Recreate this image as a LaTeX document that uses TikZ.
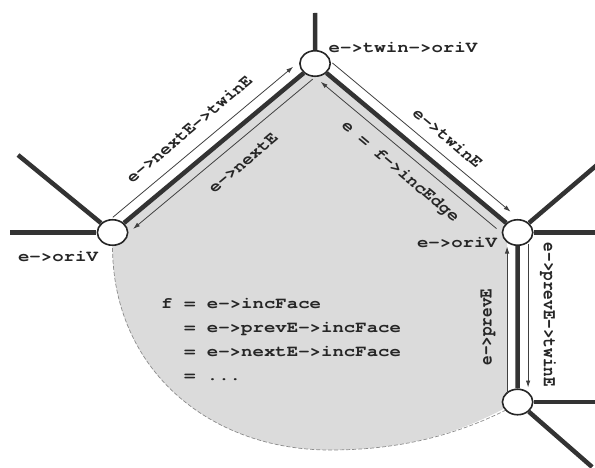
\documentclass[tikz,border=0pt]{standalone}
\usepackage{fontspec}
\setmonofont{TeX Gyre Cursor}
\usetikzlibrary{arrows.meta}
\begin{document}
\begin{tikzpicture}[x=0.840336pt,y=-1pt,xscale=1.19,
  every node/.style={transform shape},
  edge/.style={line width=4.5pt,draw=black!80},
  thinarrow/.style={line width=0.8pt,draw=black!75,-{Latex[length=7pt,width=4.5pt]}},
  vtx/.style={circle,draw=black!85,line width=1.6pt,fill=white,minimum size=25.5pt,inner sep=0pt},
  lbl/.style={inner sep=0pt,font=\fontsize{16}{19}\selectfont\ttfamily\bfseries,text=black!85},
  facefill/.style={fill=black!14},
  faceline/.style={draw=black!45,line width=0.7pt,dash pattern=on 4pt off 2pt},
]
\useasboundingbox (0,0) rectangle (595,468);
% vertex positions
\coordinate (a) at (112.5,232.5);
\coordinate (b) at (315,63.5);
\coordinate (c) at (517.5,232.5);
\coordinate (d) at (517.5,402);
% face
\path[facefill] (a) -- (b) -- (c) -- (507,232.5) -- (507,407)
  .. controls (452,437) and (395,450) .. (330,450)
  .. controls (210,450) and (112.5,370) .. (112.5,247) -- cycle;
\draw[faceline] (506,410) .. controls (452,437) and (395,450) .. (330,450)
  .. controls (210,450) and (112.5,370) .. (112.5,246);
% vertices
\node[vtx] (A) at (a) {};
\node[vtx] (B) at (b) {};
\node[vtx] (C) at (c) {};
\node[vtx] (D) at (d) {};
% free ends of outer edges
\coordinate (a1) at (10,232.5);
\coordinate (a2) at (18,155);
\coordinate (b1) at (315,13);
\coordinate (c1) at (598,164);
\coordinate (c2) at (598,232.5);
\coordinate (d1) at (598,402);
\coordinate (d2) at (592,467);
% edges
\draw[edge] (A) -- (B);
\draw[edge] (B) -- (C);
\draw[edge] (C) -- (D);
\draw[edge] (A) -- (a1);
\draw[edge] (A) -- (a2);
\draw[edge] (B) -- (b1);
\draw[edge] (C) -- (c1);
\draw[edge] (C) -- (c2);
\draw[edge] (D) -- (d1);
\draw[edge] (D) -- (d2);
% half-edge arrows
\coordinate (oAB1) at (112.8,217.3);
\coordinate (oAB2) at (293.2,66.7);
\coordinate (iAB1) at (312.7,79.1);
\coordinate (iAB2) at (133.0,229.0);
\coordinate (oBC1) at (332.4,63.0);
\coordinate (oBC2) at (510.5,211.7);
\coordinate (iBC1) at (496.4,228.6);
\coordinate (iBC2) at (320.6,81.8);
\coordinate (iCD1) at (507,393.5);
\coordinate (iCD2) at (507,246.5);
\coordinate (oCD1) at (528,244);
\coordinate (oCD2) at (528,387.5);
\draw[thinarrow] (oAB1) -- (oAB2);
\draw[thinarrow] (iAB1) -- (iAB2);
\draw[thinarrow] (oBC1) -- (oBC2);
\draw[thinarrow] (iBC1) -- (iBC2);
\draw[thinarrow] (iCD1) -- (iCD2);
\draw[thinarrow] (oCD1) -- (oCD2);
% labels
\node[lbl] (tB) at (403,48) {e->twin->oriV};
\node[lbl] (tA) at (58,257) {e->oriV};
\node[lbl] (tC) at (457,243) {e->oriV};
\node[lbl,rotate=45] (l1) at (189,129) {e->nextE->twinE};
\node[lbl,rotate=45] (l2) at (243,163) {e->nextE};
\node[lbl,rotate=-45] (l3) at (448,138) {e->twinE};
\node[lbl,rotate=-45] (l4) at (400,172) {e = f->incEdge};
\node[lbl,rotate=90] (l5) at (488,327) {e->prevE};
\node[lbl,rotate=-90] (l6) at (548,315) {e->prevE->twinE};
% formula
\node[lbl,anchor=base west] (f1) at (161,308) {f = e->incFace};
\node[lbl,anchor=base west] (f2) at (183.8,332) {= e->prevE->incFace};
\node[lbl,anchor=base west] (f3) at (183.8,356) {= e->nextE->incFace};
\node[lbl,anchor=base west] (f4) at (183.8,380) {= ...};
\end{tikzpicture}
\end{document}
